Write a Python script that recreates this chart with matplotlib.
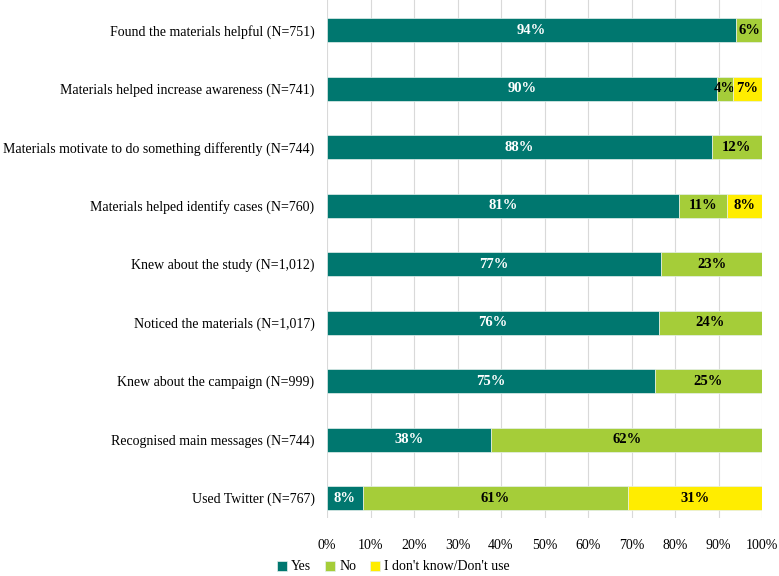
import numpy as np
import matplotlib.pyplot as plt
from matplotlib.ticker import PercentFormatter

#Survey items (top to bottom) and shares in percent
items = ['Found the materials helpful (N=751)',
         'Materials helped increase awareness (N=741)',
         'Materials motivate to do something differently (N=744)',
         'Materials helped identify cases (N=760)',
         'Knew about the study (N=1,012)',
         'Noticed the materials (N=1,017)',
         'Knew about the campaign (N=999)',
         'Recognised main messages (N=744)',
         'Used Twitter (N=767)']
yes = [94.0, 89.7, 88.4, 80.9, 76.8, 76.3, 75.4, 37.8, 8.2]
no = [6.0, 3.6, 11.6, 11.0, 23.2, 23.7, 24.6, 62.2, 61.0]
dont_know = [0, 6.7, 0, 8.1, 0, 0, 0, 0, 30.8]

series = ['Yes', 'No', "I don't know/Don't use"]
colors = ['#00776F', '#A5CD39', '#FFED00']
text_colors = ['white', 'black', 'black']

plt.rcParams['font.family'] = ['Liberation Serif']
fig = plt.figure(figsize=(7.79, 5.76), dpi=100)
ax = fig.add_axes([327/779, 1-518/576, 435/779, 518/576])

y = np.arange(len(items))
left = np.zeros(len(items))
for name, vals, c, tc in zip(series, [yes, no, dont_know], colors, text_colors):
    vals = np.array(vals)
    rects = ax.barh(y, vals, left=left, height=0.41, color=c, label=name,
                    edgecolor='#e6f0ee', linewidth=0.5, zorder=3)
    labels = ['%d%%' % round(v) if v > 0 else '' for v in vals]
    ax.bar_label(rects, labels=labels, label_type='center', color=tc,
                 fontsize=10.5, fontweight='bold')
    left += vals

ax.set_xlim(0, 100)
ax.set_ylim(8.34, -0.513)
ax.set_yticks(y, items, fontsize=10)
ax.set_xticks(np.arange(0, 101, 10))
ax.xaxis.set_major_formatter(PercentFormatter(decimals=0))
ax.tick_params(length=0)
ax.tick_params(axis='x', pad=15, labelsize=10)
ax.tick_params(axis='y', pad=9)
ax.grid(axis='x', color='#D9D9D9', linewidth=0.8, zorder=0)
for s in ax.spines.values():
    s.set_visible(False)

fig.legend(loc='center', bbox_to_anchor=(0.505, 1-567/576), ncols=3, frameon=False,
           fontsize=10, handlelength=0.7, handleheight=0.7, handletextpad=0.3,
           columnspacing=1.0)

plt.savefig('out.png', dpi=100)
